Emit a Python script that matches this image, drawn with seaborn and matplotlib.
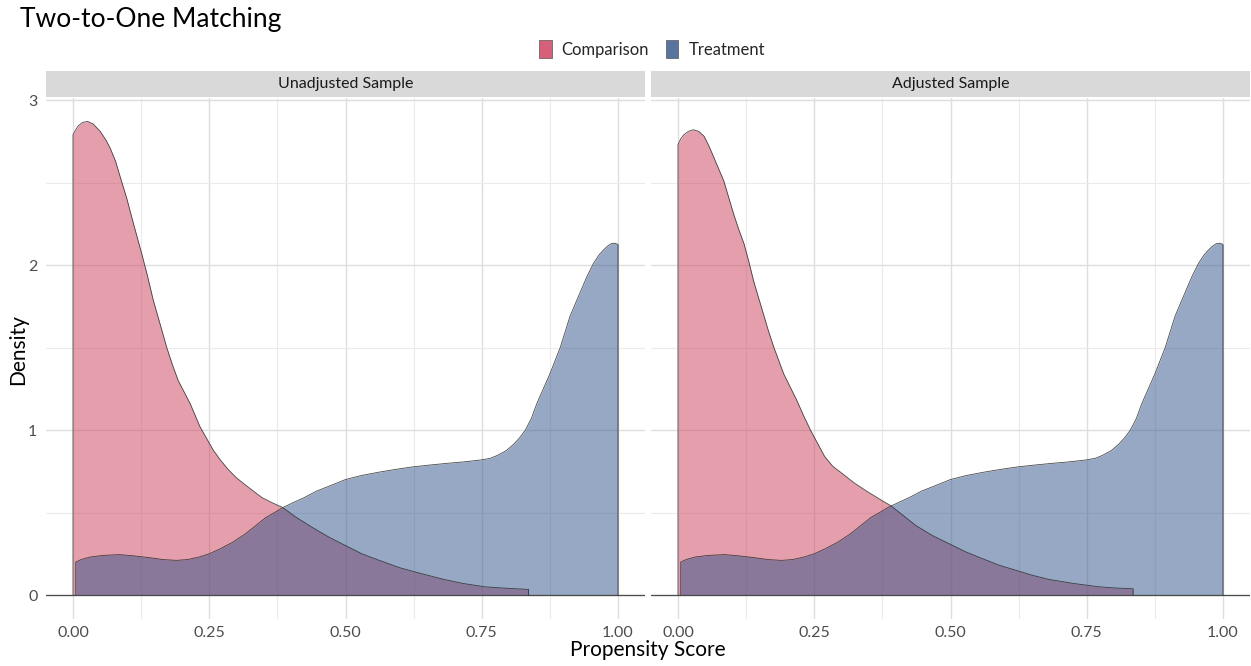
import matplotlib
matplotlib.use("Agg")
import matplotlib.pyplot as plt
import matplotlib.patches as mpatches
from matplotlib.ticker import MultipleLocator
import pandas as pd
import seaborn as sns

# Propensity-score densities (estimated KDE values) per group and sample
comp_unadj_x = [0.000, 0.005, 0.010, 0.018, 0.027, 0.037, 0.050, 0.060, 0.068,
                0.078, 0.087, 0.099, 0.111, 0.126, 0.137, 0.147, 0.160, 0.172,
                0.183, 0.193, 0.204, 0.215, 0.224, 0.233, 0.245, 0.257, 0.270,
                0.285, 0.300, 0.323, 0.347, 0.365, 0.385, 0.410, 0.439, 0.470,
                0.500, 0.530, 0.562, 0.600, 0.639, 0.680, 0.716, 0.755, 0.800,
                0.836]
comp_unadj_y = [2.79, 2.82, 2.845, 2.865, 2.87, 2.855, 2.81, 2.76, 2.71,
                2.63, 2.53, 2.40, 2.25, 2.07, 1.93, 1.79, 1.64, 1.50,
                1.39, 1.30, 1.23, 1.16, 1.09, 1.02, 0.95, 0.88, 0.82,
                0.76, 0.71, 0.65, 0.59, 0.56, 0.53, 0.47, 0.41, 0.35,
                0.30, 0.25, 0.21, 0.165, 0.13, 0.095, 0.07, 0.05, 0.04,
                0.034]

comp_adj_x = [0.000, 0.005, 0.011, 0.019, 0.028, 0.038, 0.048, 0.057, 0.066,
              0.075, 0.084, 0.093, 0.102, 0.111, 0.121, 0.130, 0.139, 0.148,
              0.157, 0.166, 0.176, 0.185, 0.194, 0.206, 0.218, 0.230, 0.243,
              0.256, 0.269, 0.284, 0.300, 0.323, 0.346, 0.368, 0.391, 0.414,
              0.437, 0.467, 0.498, 0.529, 0.559, 0.590, 0.620, 0.650, 0.680,
              0.726, 0.772, 0.800, 0.835]
comp_adj_y = [2.73, 2.765, 2.79, 2.81, 2.82, 2.81, 2.78, 2.72, 2.65,
              2.58, 2.51, 2.41, 2.31, 2.22, 2.13, 2.02, 1.90, 1.80,
              1.70, 1.60, 1.50, 1.42, 1.34, 1.26, 1.18, 1.09, 1.00,
              0.92, 0.84, 0.78, 0.74, 0.68, 0.63, 0.585, 0.54, 0.48,
              0.42, 0.36, 0.31, 0.26, 0.22, 0.18, 0.15, 0.12, 0.095,
              0.07, 0.05, 0.043, 0.038]

treat_x = [0.005, 0.015, 0.031, 0.055, 0.085, 0.110, 0.139, 0.165, 0.190,
           0.210, 0.231, 0.250, 0.270, 0.293, 0.316, 0.335, 0.354, 0.370,
           0.385, 0.404, 0.424, 0.447, 0.470, 0.500, 0.530, 0.562, 0.593,
           0.624, 0.655, 0.686, 0.717, 0.747, 0.765, 0.778, 0.795, 0.809,
           0.820, 0.830, 0.841, 0.851, 0.863, 0.875, 0.894, 0.912, 0.930,
           0.943, 0.955, 0.965, 0.973, 0.981, 0.988, 0.994, 1.000]
treat_y = [0.20, 0.215, 0.23, 0.24, 0.245, 0.238, 0.227, 0.215, 0.21,
           0.215, 0.23, 0.25, 0.28, 0.32, 0.37, 0.42, 0.47, 0.50,
           0.53, 0.56, 0.59, 0.63, 0.66, 0.70, 0.725, 0.745, 0.762,
           0.777, 0.788, 0.798, 0.807, 0.818, 0.828, 0.845, 0.875, 0.915,
           0.955, 1.00, 1.07, 1.16, 1.25, 1.34, 1.50, 1.69, 1.83,
           1.93, 2.01, 2.06, 2.09, 2.115, 2.13, 2.132, 2.125]

panels = ["Unadjusted Sample", "Adjusted Sample"]
groups = ["Comparison", "Treatment"]
x_ticks = [0.00, 0.25, 0.50, 0.75, 1.00]
x_tick_labels = ["0.00", "0.25", "0.50", "0.75", "1.00"]
y_ticks = [0, 1, 2, 3]

fill_colors = {"Comparison": "#CD3F5B", "Treatment": "#2F5389"}
key_colors = {"Comparison": "#D6607A", "Treatment": "#5A74A0"}

curves = {
    ("Unadjusted Sample", "Comparison"): (comp_unadj_x, comp_unadj_y),
    ("Unadjusted Sample", "Treatment"): (treat_x, treat_y),
    ("Adjusted Sample", "Comparison"): (comp_adj_x, comp_adj_y),
    ("Adjusted Sample", "Treatment"): (treat_x, treat_y),
}

sns.set_theme(style="white")
plt.rcParams["font.family"] = ["Lato", "DejaVu Sans"]

W, H = 1251, 666
fig = plt.figure(figsize=(W / 100, H / 100), dpi=100)

ax_bottom = (H - 618.7) / H
ax_height = (618.7 - 97.8) / H
lefts = [45.75 / W, 650.75 / W]
ax_width = 599.5 / W

axes = []
for i, panel in enumerate(panels):
    ax = fig.add_axes([lefts[i], ax_bottom, ax_width, ax_height],
                      sharey=axes[0] if axes else None)
    axes.append(ax)
    ax.set_xlim(-0.05, 1.05)
    ax.set_ylim(-0.1435, 3.0135)
    ax.set_facecolor("white")
    for s in ax.spines.values():
        s.set_visible(False)

    ax.xaxis.set_major_locator(MultipleLocator(0.25))
    ax.xaxis.set_minor_locator(MultipleLocator(0.125))
    ax.yaxis.set_major_locator(MultipleLocator(1))
    ax.yaxis.set_minor_locator(MultipleLocator(0.5))
    ax.grid(which="major", color="#DEDEDE", linewidth=1.0)
    ax.grid(which="minor", color="#EBEBEB", linewidth=0.8)
    ax.set_axisbelow(True)
    ax.tick_params(which="both", length=0)
    ax.set_xticks(x_ticks)
    ax.set_xticklabels(x_tick_labels, fontsize=11.5, color="#4D4D4D")
    ax.tick_params(axis="x", pad=5)
    if i == 0:
        ax.set_yticks(y_ticks)
        ax.set_yticklabels([str(v) for v in y_ticks], fontsize=11.5, color="#4D4D4D")
        ax.tick_params(axis="y", pad=6)
    else:
        ax.tick_params(axis="y", labelleft=False)

    for g in groups:
        xs, ys = curves[(panel, g)]
        ox = [xs[0]] + list(xs) + [xs[-1]]
        oy = [0.0] + list(ys) + [0.0]
        ax.fill_between(xs, 0, ys, color=fill_colors[g], alpha=0.5, linewidth=0)
        outline = pd.DataFrame({"score": ox, "density": oy})
        sns.lineplot(data=outline, x="score", y="density", ax=ax, estimator=None,
                     sort=False, color="#2B2B2B", linewidth=0.6, alpha=0.85)

    ax.axhline(0, color="#4A4A4A", linewidth=0.9, zorder=1)
    ax.set_xlabel("")
    ax.set_ylabel("")

    # facet strip
    strip_h = 26 / (618.7 - 97.8)
    ax.add_patch(mpatches.Rectangle((0, 1.0 + 0.002), 1, strip_h, transform=ax.transAxes,
                                    facecolor="#D9D9D9", edgecolor="none", clip_on=False))
    ax.text(0.5, 1.0 + 0.002 + strip_h / 2, panel, transform=ax.transAxes,
            ha="center", va="center", fontsize=11.5, color="#1A1A1A")

fig.text(20 / W, 1 - 20 / H, "Two-to-One Matching", ha="left", va="center",
         fontsize=19, color="black")
fig.text(648 / W, 1 - 650 / H, "Propensity Score", ha="center", va="center",
         fontsize=15, color="black")
fig.text(18 / W, 1 - 350 / H, "Density", ha="center", va="center", rotation=90,
         fontsize=15, color="black")

handles = [mpatches.Patch(facecolor=key_colors[g], edgecolor="#555555",
                          linewidth=0.5, label=g) for g in groups]
fig.legend(handles=handles, loc="center", bbox_to_anchor=(652 / W, 1 - 49 / H),
           ncol=2, frameon=False, fontsize=12, handlelength=0.75, handleheight=1.3,
           handletextpad=0.6, columnspacing=1.0)

fig.savefig("out.png", dpi=100)
